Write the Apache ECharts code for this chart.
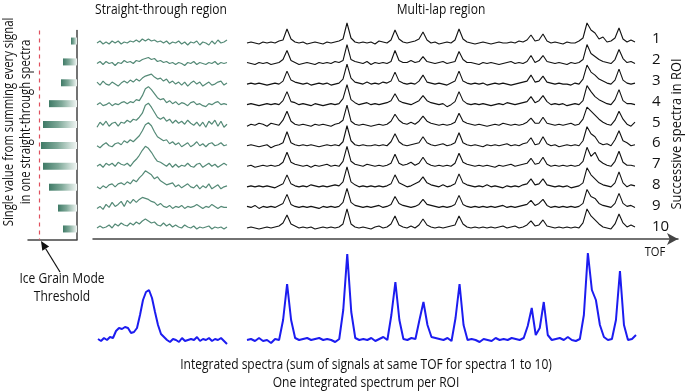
<!DOCTYPE html>
<html>
<head>
<meta charset="utf-8">
<script src="https://cdn.jsdelivr.net/npm/echarts@6.0.0/dist/echarts.min.js"></script>
<style>
  html, body { margin: 0; padding: 0; background: #fff; }
  #chart { width: 685px; height: 392px; }
</style>
</head>
<body>
<div id="chart"></div>
<script>
const FONT = "'Open Sans', sans-serif";
const NARROW = 0.86;

// summed signal of each straight-through spectrum (bar length) and the threshold
const barValues = [6, 14, 16, 28, 34, 36, 34, 28, 19, 14];
const threshold = 38;
const rowLabels = ["1", "2", "3", "4", "5", "6", "7", "8", "9", "10"];

// straight-through spectra, height above each row baseline
const straightSpectra = [
  [0,2,-1,1,-1,2,0,2,-1,1,0,2,1,3,1,4,2,4,2,3,1,2,0,2,-1,1,0,2,-1,1,-2,1,0,2,-2,1,0,-2,2,-1,3,0,1,3],
  [0,2,-1,2,0,1,-2,1,0,3,1,2,0,3,2,4,5,6,4,5,2,3,1,2,0,1,-1,1,0,-2,1,0,2,-1,1,0,-1,1,0,2,-1,1,0,1],
  [2,-1,3,0,-1,2,0,-2,1,3,1,4,2,5,3,6,8,9,10,7,5,6,3,5,1,3,0,2,-1,2,-2,1,3,0,2,-2,0,2,-1,0,2,3,-1,1],
  [0,2,-1,0,2,-1,1,0,2,3,1,3,2,5,4,9,16,18,15,11,7,5,6,2,4,1,3,0,2,1,-1,2,3,0,1,-1,-2,1,0,2,3,0,1,0],
  [-2,3,0,4,-1,2,3,-1,3,2,5,3,6,5,8,12,20,22,18,13,8,6,8,4,6,2,5,2,4,1,5,2,0,3,-1,3,-2,4,1,5,-1,4,-2,1],
  [0,-2,1,3,0,-1,2,3,1,5,3,6,4,7,10,15,21,23,20,14,9,7,5,6,2,4,1,3,-1,1,3,-1,1,4,0,2,-1,2,3,0,1,3,0,1],
  [0,2,-1,3,1,3,0,4,2,1,3,0,4,7,11,16,20,18,14,9,5,4,2,0,3,-1,2,-1,1,0,3,0,-1,2,3,-1,1,3,0,2,-1,1,3,1],
  [0,-2,1,-1,2,3,0,3,4,2,5,3,7,5,9,12,16,14,12,8,10,6,4,2,3,4,0,2,-1,1,3,0,-1,2,-2,1,-1,3,-2,0,2,-2,0,1],
  [-1,1,-2,3,0,5,1,3,6,1,7,4,8,5,8,10,9,8,6,5,2,4,1,0,2,-1,1,0,2,-1,1,0,1,3,1,-1,1,0,3,1,-1,1,0,0],
  [0,2,0,1,3,0,4,2,5,3,2,5,3,6,4,7,9,7,5,6,3,2,5,2,4,1,3,1,0,3,1,0,2,-1,1,0,1,2,-1,1,0,1,-1,1]
];

// multi-lap spectra, height above each row baseline
const multiLapSpectra = [
  [0,1,0,-1,1,0,1,0,2, 3,14,4,1, 0,1,-1,0,1,0,-1,1,0,1,2, 4,20,5,1, 0,1,0,1,-1,2,1,0, 3,13,4,1, 0,1,2, 4,11,3, 0,1,-1,0,1,0, 3,14,4,1, 0,-1,0,1,0,-1,0,1,0,0,1,0,2,1, 3,8,2,3,9,2, 0,1,0,-1,1,0,0,2, 5,20,13,10,4,6,1, 2,5,15,4,1,3,1],
  [1,0,-1,1,0,1,-1,0,1, 4,13,3,1, -1,0,1,0,-1,1,0,1,0,2,1, 3,19,4,2, 1,0,2,-1,1,0,1,0, 2,13,3,1, 1,3,1, 2,7,2, 1,0,1,2,0,1, 2,12,4,1, 1,0,-1,1,0,1,0,-1,0,1,2,0,1,0, 2,8,1,3,8,2, 1,0,1,0,-1,1,0,1, 4,19,10,7,4,2,1, 0,4,14,5,1,2,0],
  [0,1,0,1,0,-1,0,1,0, 3,13,4,2, 1,0,1,-1,0,1,0,1,-1,0,1, 5,20,6,2, 1,0,2,0,1,0,2,1, 3,12,3,1, 0,1,0, 3,9,2, 1,0,1,0,-1,1, 3,13,3,1, 0,1,0,1,-1,0,1,0,1,0,-1,0,1,2, 3,9,2,3,8,2, 1,0,1,0,0,-1,1,0, 5,19,12,9,5,3,1, 0,4,15,4,1,0,1],
  [0,1,0,-1,0,1,0,1,0, 4,13,3,2, 0,1,0,-1,1,0,-1,0,1,0,1, 6,20,5,2, 0,1,2,0,1,0,1,2, 4,11,4,2, 1,0,2, 4,9,4, 2,1,0,1,-2,0, 3,13,4,1, 0,1,0,1,0,-1,0,1,0,2,1,0,1,2, 3,8,2,4,9,3, 0,1,0,1,-1,0,1,0, 4,19,13,8,5,3,1, 0,5,15,4,1,1,0],
  [-1,1,0,2,1,-1,2,1,0, 5,14,4,1, 0,1,0,-1,1,0,1,0,-1,1,2, 5,20,4,1, 0,1,0,-1,0,1,0,1, 4,11,5,2, 1,3,1, 4,9,4, 2,1,0,1,0,1, 3,12,4,2, 1,0,1,0,-1,0,1,0,2,1,0,1,0,1, 3,7,2,2,8,2, 1,0,1,0,1,2,0,1, 6,18,14,10,6,3,1, 0,5,14,6,1,-1,3],
  [0,1,0,-1,0,1,-2,0,1, 3,14,3,1, 0,1,0,1,0,-1,0,1,0,1,0, 4,20,5,1, 0,1,0,0,1,0,1,0, 4,12,4,1, 0,1,2, 3,9,3, 1,0,1,2,0,1, 3,13,3,1, 0,1,0,-1,1,0,1,0,1,2,0,1,0,2, 3,8,1,2,9,2, 0,1,-1,0,1,0,1,0, 5,19,12,9,3,1,2, 0,6,15,5,3,0,1],
  [0,1,-1,0,1,0,1,0,1, 4,14,4,2, 1,0,1,-1,1,0,1,2,0,1,0, 5,20,5,2, 1,0,2,1,0,1,0,1, 3,12,3,1, 2,4,1, 3,9,3, 1,0,1,0,1,0, 3,13,4,2, 1,0,1,0,1,0,-1,1,0,1,2,0,1,2, 3,8,2,3,9,2, 0,1,0,1,0,1,0,1, 5,19,10,14,6,3,1, 0,5,15,4,1,1,0],
  [0,1,0,1,0,1,0,-1,1, 3,12,3,1, 0,1,0,2,1,0,1,0,1,2,1, 5,20,5,2, 0,1,0,1,0,1,0,1, 3,12,4,2, 0,1,3, 5,10,4, 2,1,0,2,0,1, 3,13,4,2, 1,0,1,0,2,0,1,0,-1,1,0,1,0,2, 3,8,2,3,8,2, 1,0,1,0,1,-1,0,1, 4,19,12,8,4,2,1, 0,4,15,4,0,2,1],
  [1,0,2,-1,1,0,1,0,2, 4,13,3,1, 0,1,0,1,0,-1,1,0,1,0,1, 5,19,5,2, 1,0,1,0,1,2,0,1, 3,11,4,2, 1,0,1, 3,8,3, 2,1,0,1,0,1, 3,12,3,1, 0,1,0,1,0,1,0,1,2,0,1,0,1,2, 3,7,2,4,8,2, 0,1,0,1,0,1,0,1, 4,18,11,9,4,2,1, 0,4,14,4,1,2,0],
  [0,1,0,-1,0,1,0,1,2, 5,13,4,2, 0,1,0,1,-1,0,1,0,1,0,1, 4,19,4,1, 0,1,0,-1,1,2,0,1, 4,12,3,1, 0,2,0, 3,9,3, 1,0,1,0,1,2, 3,12,4,1, 0,1,0,1,0,1,0,1,2,0,1,2,0,1, 3,7,2,3,8,2, 1,0,1,0,1,0,1,0, 5,19,12,8,4,1,0, -1,4,14,5,1,3,1]
];

// integrated spectra (sum over spectra 1 to 10), height above baseline
const straightIntegrated = [1,-1,2,0,3,2,9,12,11,13,12,7,8,12,25,40,48,50,42,28,15,6,3,0,-2,1,0,-2,2,-1,0,1,0,3,-1,1,0,2,-1,1,0,2,-1,-4];
const multiLapIntegrated = [0,1,-1,2,-1,0,-3,1,0, 20,56,20,2, 0,1,2,0,1,2,0,1,0,-2,1, 30,86,28,2, 0,1,0,2,-1,1,3,0, 25,58,20,1, 0,2,1, 20,38,15, 3,2,1,0,2,-1, 22,56,15,0, 1,0,-2,1,0,-1,2,0,1,0,2,1,0,2, 14,32,5,12,38,5, 0,1,2,0,3,0,-1,1, 25,87,50,40,15,3,0, 1,20,69,15,0,1,5];

const rowBase0 = 43;
const rowStep = 20.55;

const chart = echarts.init(document.getElementById("chart"), null, { renderer: "canvas" });

const grids = [];
const xAxes = [];
const yAxes = [];
const series = [];

function addGrid(g) {
  grids.push(Object.assign({ outerBoundsMode: "none", containLabel: false }, g));
  return grids.length - 1;
}

function addTrace(left, width, top, height, yMin, yMax, data, color, lineWidth) {
  const idx = addGrid({ left: left, width: width, top: top, height: height });
  xAxes.push({ type: "category", gridIndex: idx, boundaryGap: false, show: false, data: data.map((_, i) => i) });
  yAxes.push({ type: "value", gridIndex: idx, min: yMin, max: yMax, show: false });
  series.push({
    type: "line", xAxisIndex: idx, yAxisIndex: idx, data: data, showSymbol: false,
    lineStyle: { color: color, width: lineWidth }, silent: true
  });
}

// bar panel (index 0)
addGrid({ left: 28, width: 49, top: 30.6, height: 208.8 });
xAxes.push({
  type: "value", gridIndex: 0, inverse: true, min: 0, max: 49,
  axisLine: { show: true, lineStyle: { color: "#444", width: 1.5 } },
  axisTick: { show: false }, axisLabel: { show: false }, splitLine: { show: false }
});
yAxes.push({
  type: "category", gridIndex: 0, inverse: true, position: "right", data: rowLabels,
  axisLine: { show: true, lineStyle: { color: "#444", width: 1.5 } },
  axisTick: { show: false }, axisLabel: { show: false }
});
series.push({
  type: "bar", xAxisIndex: 0, yAxisIndex: 0, data: barValues, barWidth: 7, silent: true,
  itemStyle: {
    color: new echarts.graphic.LinearGradient(0, 0, 1, 0, [
      { offset: 0, color: "#3f7a66" },
      { offset: 0.45, color: "#7ea898" },
      { offset: 1, color: "#f4f8f6" }
    ])
  },
  markLine: {
    silent: true, symbol: "none", label: { show: false },
    lineStyle: { color: "#e0505e", type: [4, 4], width: 1.2 },
    data: [{ xAxis: threshold }]
  }
});

straightSpectra.forEach((d, i) => {
  addTrace(97, 130, rowBase0 + rowStep * i - 24, 30, -6, 24, d, "#558a77", 1.2);
});
multiLapSpectra.forEach((d, i) => {
  addTrace(247, 388, rowBase0 + rowStep * i - 24, 30, -6, 24, d, "#111", 1.1);
});
addTrace(98, 129, 250, 100, -10, 90, straightIntegrated, "#1c1cf0", 2);
addTrace(247, 389, 250, 100, -10, 90, multiLapIntegrated, "#1c1cf0", 2);

// TOF axis with arrow
let gi = addGrid({ left: 93, right: 7, top: 200, height: 39 });
xAxes.push({
  type: "value", gridIndex: gi, min: 0, max: 1,
  axisLine: { show: true, symbol: ["none", "arrow"], symbolSize: [9, 11], lineStyle: { color: "#444", width: 1.5 } },
  axisTick: { show: false }, axisLabel: { show: false }, splitLine: { show: false }
});
yAxes.push({ type: "value", gridIndex: gi, show: false });

// row numbers on the right
gi = addGrid({ left: 247, width: 393, top: 28.5, height: 208.5 });
xAxes.push({ type: "value", gridIndex: gi, show: false });
yAxes.push({
  type: "category", gridIndex: gi, inverse: true, position: "right", data: rowLabels,
  axisLine: { show: false }, axisTick: { show: false },
  axisLabel: { margin: 12, fontSize: 15, color: "#111", fontFamily: FONT }
});

const txt = (text, x, y, size, extra) => ({
  type: "text", x: x, y: y, scaleX: NARROW, silent: true,
  style: Object.assign({ text: text, fill: "#111", fontSize: size, fontFamily: FONT, align: "center", verticalAlign: "middle" }, extra || {})
});

const graphic = [
  txt("Straight-through region", 161, 10, 14),
  txt("Multi-lap region", 441, 10, 14),
  Object.assign(txt("Single value from summing every signal\nin one straight-through spectra", 18, 122, 14, { lineHeight: 17 }), { rotation: Math.PI / 2, scaleX: 0.81 }),
  Object.assign(txt("Successive spectra in ROI", 677, 134, 15), { rotation: Math.PI / 2 }),
  txt("Ice Grain Mode\nThreshold", 62, 288, 14, { lineHeight: 18 }),
  txt("TOF", 655, 252, 13),
  txt("Integrated spectra (sum of signals at same TOF for spectra 1 to 10)", 366, 365, 14),
  txt("One integrated spectrum per ROI", 366, 383, 14),
  { type: "line", silent: true, shape: { x1: 60, y1: 272, x2: 45.7, y2: 248.7 }, style: { stroke: "#111", lineWidth: 1.2 } },
  { type: "polygon", silent: true, shape: { points: [[41, 241], [49.1, 246.6], [42.3, 250.8]] }, style: { fill: "#111" } }
];

chart.setOption({
  animation: false,
  backgroundColor: "#fff",
  grid: grids,
  xAxis: xAxes,
  yAxis: yAxes,
  series: series,
  graphic: graphic
});
</script>
</body>
</html>
